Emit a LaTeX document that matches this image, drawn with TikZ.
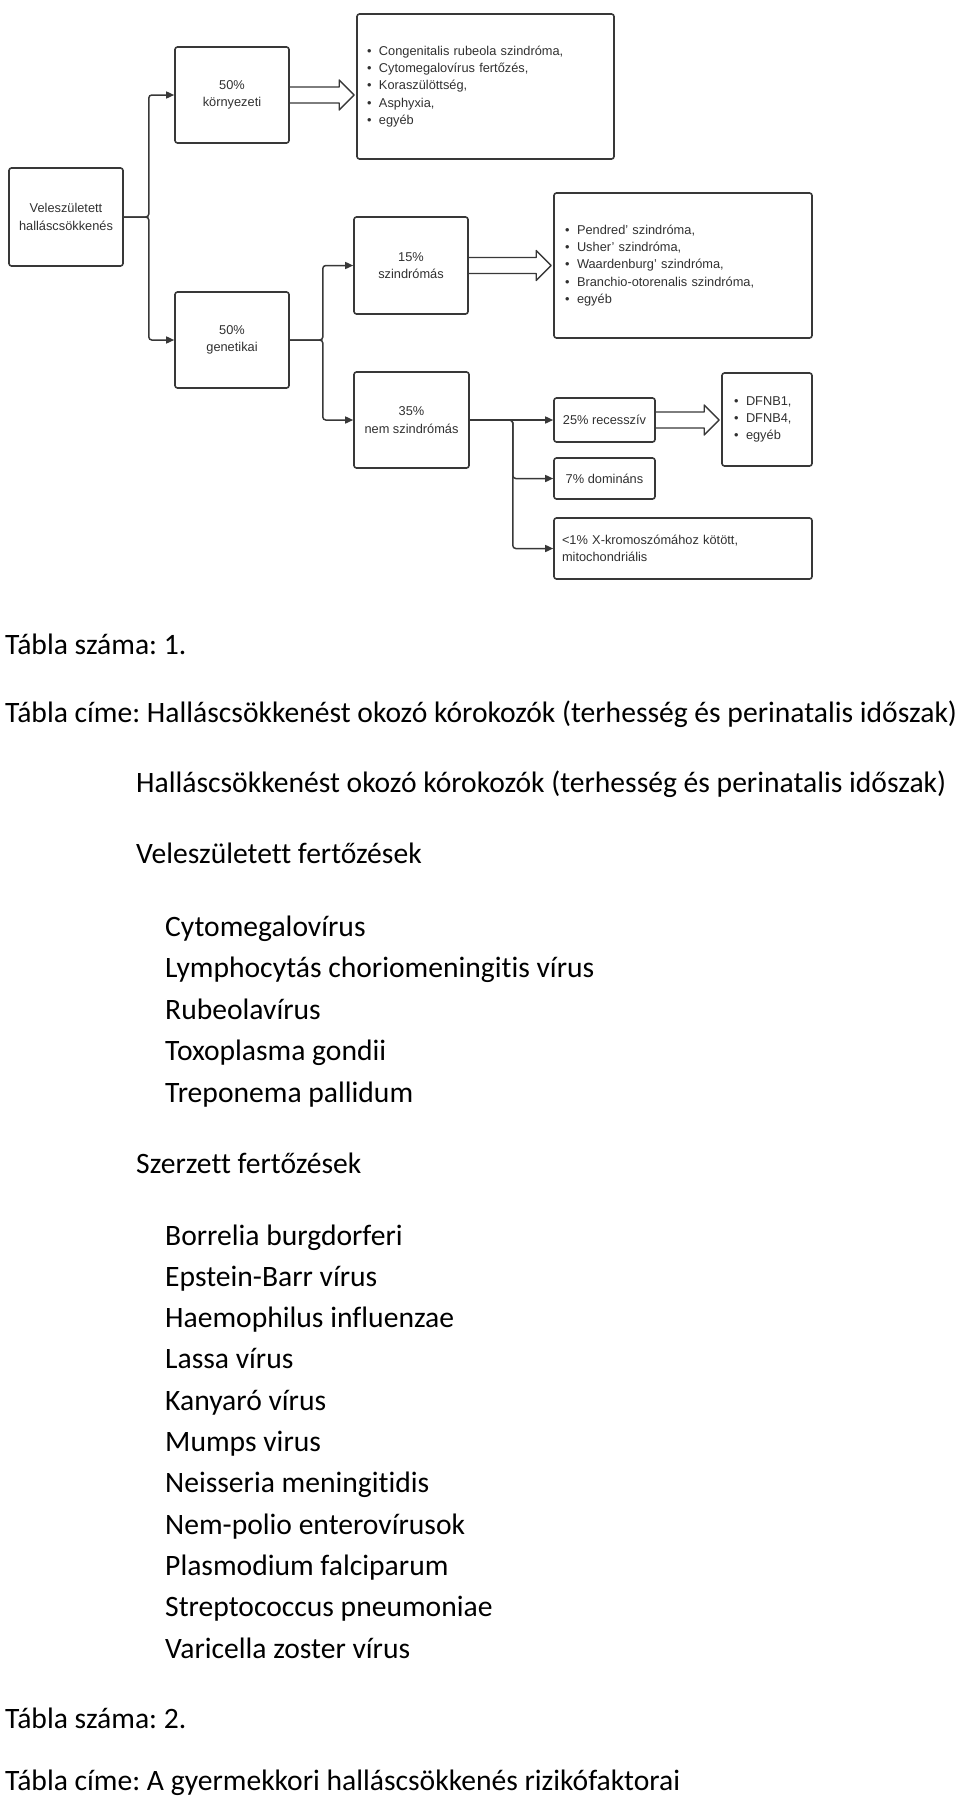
\documentclass[tikz,border=0pt]{standalone}
\usepackage{fontspec}
\setmainfont{Carlito}[Ligatures=NoCommon]
\newfontfamily\diagfont{Liberation Sans}
\usetikzlibrary{arrows.meta,positioning,calc}
\definecolor{linegray}{HTML}{383838}
\definecolor{textgray}{HTML}{303030}
\frenchspacing

\newcommand{\bl}{\makebox[12pt][l]{\textbullet}}
\newcommand{\hollowarrow}[2]{%
  \draw[fatarrow] ($(#1.east)+(0,-8)$) -- ($(#1.east -| #2.west)+(-17,-8)$) -- ++(0,-7)
    -- ($(#1.east -| #2.west)+(-2,0)$) -- ($(#1.east -| #2.west)+(-17,15)$) -- ++(0,-7)
    -- ($(#1.east)+(0,8)$);}

\begin{document}
\begin{tikzpicture}[x=1pt, y=-1pt,
  box/.style={draw=linegray, line width=1.6pt, rounded corners=2.5pt, align=center, inner sep=0pt,
    text=textgray, font=\diagfont\fontsize{12.8}{17.3}\selectfont},
  listbox/.style={box, align=left, inner xsep=10pt},
  conn/.style={draw=linegray, line width=1.5pt, rounded corners=3pt, -{Triangle[length=8pt,width=7pt]}},
  fatarrow/.style={draw=linegray, line width=1.4pt, line join=round},
  doc/.style={anchor=base west, inner sep=0pt, font=\fontsize{29.6}{34}\selectfont}
]
  \useasboundingbox (0,0) rectangle (960,1807);

  \node[box, minimum width=114pt, minimum height=98pt] (vel) at (66,217) {Veleszületett\\halláscsökkenés};
  \node[box, minimum width=114pt, minimum height=96pt] (korny) at (232,95) {50\%\\környezeti};
  \node[box, minimum width=114pt, minimum height=96pt] (gen) at (232,340) {50\%\\genetikai};
  \node[listbox, text width=237pt, minimum height=145pt] (envlist) at (485.5,86.5)
    {\bl Congenitalis rubeola szindróma,\\ \bl Cytomegalovírus fertőzés,\\ \bl Koraszülöttség,\\ \bl Asphyxia,\\ \bl egyéb};
  \node[box, minimum width=114pt, minimum height=97pt] (szind) at (411,265.5) {15\%\\szindrómás};
  \node[box, minimum width=115pt, minimum height=96pt] (nemszind) at (411.5,420) {35\%\\nem szindrómás};
  \node[listbox, inner xsep=11pt, text width=236pt, minimum height=145pt] (szindlist) at (683,265.5)
    {\bl Pendred’ szindróma,\\ \bl Usher’ szindróma,\\ \bl Waardenburg’ szindróma,\\ \bl Branchio-otorenalis szindróma,\\ \bl egyéb};
  \node[box, minimum width=101pt, minimum height=44pt] (rec) at (604.5,420) {25\% recesszív};
  \node[listbox, inner xsep=12pt, text width=66pt, minimum height=93pt] (dfnb) at (767,419.5)
    {\bl DFNB1,\\ \bl DFNB4,\\ \bl egyéb};
  \node[box, minimum width=101pt, minimum height=41pt] (dom) at (604.5,478.5) {7\% domináns};
  \node[listbox, inner xsep=8pt, text width=242pt, minimum height=61pt] (xlink) at (683,548.5)
    {<1\% X-kromoszómához kötött,\\mitochondriális};

  \draw[conn] (vel.east) -- ++(25,0) |- (korny.west);
  \draw[conn] (vel.east) -- ++(25,0) |- (gen.west);
  \draw[conn] (gen.east) -- ++(33,0) |- (szind.west);
  \draw[conn] (gen.east) -- ++(33,0) |- (nemszind.west);
  \draw[conn] (nemszind.east) -- (rec.west);
  \draw[conn] (nemszind.east) -- ++(43,0) |- (dom.west);
  \draw[conn] (nemszind.east) -- ++(43,0) |- (xlink.west);

  \hollowarrow{korny}{envlist}
  \hollowarrow{szind}{szindlist}
  \hollowarrow{rec}{dfnb}

  \node[doc] (szam1) at (5,654) {Tábla száma: 1.};
  \node[doc] (cim1) at (5,722) {Tábla címe: Halláscsökkenést okozó kórokozók (terhesség és perinatalis időszak)};
  \node[doc] (alcim) at (136,792) {Halláscsökkenést okozó kórokozók (terhesség és perinatalis időszak)};
  \node[doc] (velfert) at (136,863) {Veleszületett fertőzések};
  \foreach \txt [count=\i] in {Cytomegalovírus, Lymphocytás choriomeningitis vírus, Rubeolavírus,
      Toxoplasma gondii, Treponema pallidum}
    \node[doc] (vf\i) at (165,{936+41.5*(\i-1)}) {\txt};
  \node[doc] (szerz) at (136,1173) {Szerzett fertőzések};
  \foreach \txt [count=\i] in {Borrelia burgdorferi, Epstein-Barr vírus, Haemophilus influenzae, Lassa vírus,
      Kanyaró vírus, Mumps virus, Neisseria meningitidis, Nem-polio enterovírusok, Plasmodium falciparum,
      Streptococcus pneumoniae, Varicella zoster vírus}
    \node[doc] (sf\i) at (165,{1245+41.3*(\i-1)}) {\txt};
  \node[doc] (szam2) at (5,1728) {Tábla száma: 2.};
  \node[doc] (cim2) at (5,1790) {Tábla címe: A gyermekkori halláscsökkenés rizikófaktorai};
\end{tikzpicture}
\end{document}
